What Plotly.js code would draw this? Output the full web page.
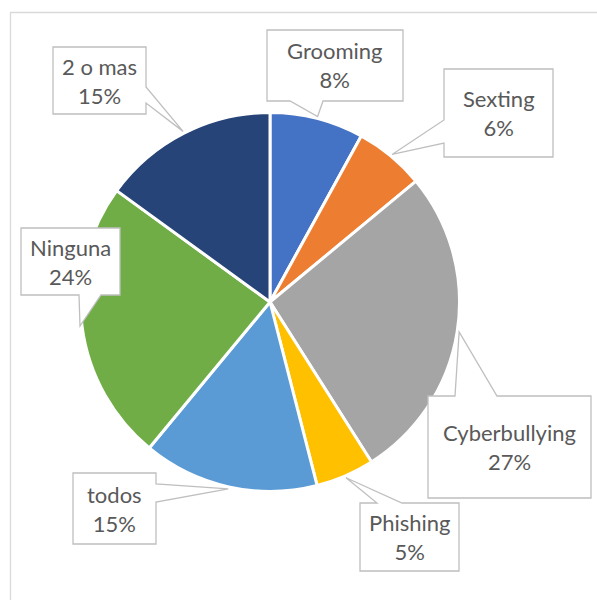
<!DOCTYPE html>
<html>
<head>
<meta charset="utf-8">
<script src="https://cdn.plot.ly/plotly-3.0.1.min.js"></script>
<style>
  html, body { margin: 0; padding: 0; background: #fff; }
  #grafica { width: 597px; height: 600px; }
</style>
</head>
<body>
<div id="grafica"></div>
<script>
// datos de la grafica
var categorias = ['Grooming', 'Sexting', 'Cyberbullying', 'Phishing', 'todos', 'Ninguna', '2 o mas'];
var porcentajes = [8, 6, 27, 5, 15, 24, 15];

var colores = ['#4472C4', '#ED7D31', '#A5A5A5', '#FFC000', '#5B9BD5', '#70AD47', '#264478'];

var W = 597, H = 600;
var centro = { x: 270, y: 302 }, radio = 189.5;

// cajas de las etiquetas (pixeles), lado del que sale la punta y tramo de la base
var cajas = [
    { x0: 267, y0: 30,  x1: 403, y1: 101, lado: 'bottom', a: 290, c: 323 },
    { x0: 444, y0: 69,  x1: 553, y1: 157, lado: 'left',   a: 120, c: 143 },
    { x0: 428, y0: 396, x1: 591, y1: 498, lado: 'top',    a: 455, c: 497 },
    { x0: 360, y0: 503, x1: 459, y1: 571, lado: 'top',    a: 377, c: 402 },
    { x0: 73,  y0: 473, x1: 156, y1: 544, lado: 'right',  a: 484, c: 502 },
    { x0: 21,  y0: 228, x1: 120, y1: 295, lado: 'bottom', a: 79,  c: 101 },
    { x0: 53,  y0: 47,  x1: 146, y1: 114, lado: 'right',  a: 87,  c: 103 }
];

function px(x) { return x / W; }
function py(y) { return 1 - y / H; }

// punta: mitad de cada rebanada, sobre el borde del pastel
function puntas() {
    var total = porcentajes.reduce(function(s, v) { return s + v; }, 0);
    var acum = 0;
    return porcentajes.map(function(v) {
        var ang = (acum + v / 2) / total * 2 * Math.PI;
        acum += v;
        return { x: centro.x + (radio + 2) * Math.sin(ang), y: centro.y - (radio + 2) * Math.cos(ang) };
    });
}

function caminoLlamada(b, t) {
    var p = [[b.x0, b.y0]];
    if (b.lado === 'top') p.push([b.a, b.y0], [t.x, t.y], [b.c, b.y0]);
    p.push([b.x1, b.y0]);
    if (b.lado === 'right') p.push([b.x1, b.a], [t.x, t.y], [b.x1, b.c]);
    p.push([b.x1, b.y1]);
    if (b.lado === 'bottom') p.push([b.c, b.y1], [t.x, t.y], [b.a, b.y1]);
    p.push([b.x0, b.y1]);
    if (b.lado === 'left') p.push([b.x0, b.c], [t.x, t.y], [b.x0, b.a]);
    return 'M' + p.map(function(q) { return px(q[0]).toFixed(5) + ',' + py(q[1]).toFixed(5); }).join(' L') + ' Z';
}

var tips = puntas();
var formas = [{
    type: 'rect', xref: 'paper', yref: 'paper',
    x0: px(10.5), y0: py(12.5), x1: px(640), y1: py(640),
    line: { color: '#D9D9D9', width: 1.3 }, fillcolor: 'rgba(0,0,0,0)', layer: 'below'
}];
var notas = [];

cajas.forEach(function(b, i) {
    formas.push({
        type: 'path', xref: 'paper', yref: 'paper',
        path: caminoLlamada(b, tips[i]),
        fillcolor: '#FFFFFF',
        line: { color: '#BFBFBF', width: 1.3 }
    });
    notas.push({
        xref: 'paper', yref: 'paper',
        x: px((b.x0 + b.x1) / 2), y: py((b.y0 + b.y1) / 2),
        xanchor: 'center', yanchor: 'middle',
        text: categorias[i] + '<br>' + porcentajes[i] + '%',
        showarrow: false,
        font: { family: 'Lato, "Open Sans", sans-serif', size: 22, color: '#595959' }
    });
});

var trace = {
    type: 'pie',
    labels: categorias,
    values: porcentajes,
    sort: false,
    direction: 'clockwise',
    rotation: 0,
    textinfo: 'none',
    hoverinfo: 'none',
    marker: { colors: colores, line: { color: '#FFFFFF', width: 3 } },
    domain: {
        x: [px(centro.x - radio), px(centro.x + radio)],
        y: [py(centro.y + radio), py(centro.y - radio)]
    }
};

var layout = {
    width: W, height: H,
    margin: { l: 0, r: 0, t: 0, b: 0 },
    showlegend: false,
    paper_bgcolor: '#FFFFFF',
    shapes: formas,
    annotations: notas
};

Plotly.newPlot('grafica', [trace], layout, { displayModeBar: false, staticPlot: true });
</script>
</body>
</html>
